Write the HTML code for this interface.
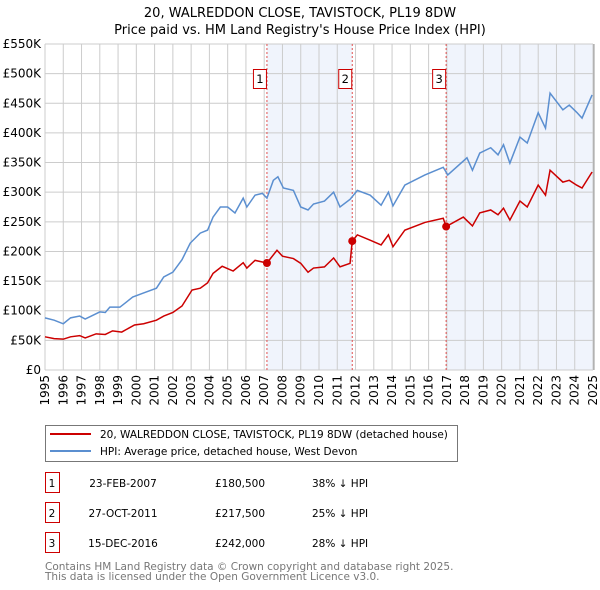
<!DOCTYPE html>
<html><head><meta charset="utf-8"><style>
body{margin:0;background:#fff;}
svg{display:block;font-family:"DejaVu Sans","Liberation Sans",sans-serif;}
</style></head><body>
<svg id="chart" width="600" height="590" viewBox="0 0 600 590">
<text x="300" y="17" text-anchor="middle" font-size="13">20, WALREDDON CLOSE, TAVISTOCK, PL19 8DW</text>
<text x="300" y="34" text-anchor="middle" font-size="13">Price paid vs. HM Land Registry's House Price Index (HPI)</text>
<g id="plot"></g>
<g>
<rect x="45.5" y="425.5" width="412" height="36" fill="#fff" stroke="#777"/>
<line x1="50" y1="434" x2="91" y2="434" stroke="#cc0000" stroke-width="2"/>
<text x="100" y="438" font-size="10.5">20, WALREDDON CLOSE, TAVISTOCK, PL19 8DW (detached house)</text>
<line x1="50" y1="451" x2="91" y2="451" stroke="#5b8fd0" stroke-width="2"/>
<text x="100" y="455" font-size="10.5">HPI: Average price, detached house, West Devon</text>
</g>
<g id="table" font-size="10.5"></g>
<text x="45" y="570" font-size="10.5" fill="#777">Contains HM Land Registry data © Crown copyright and database right 2025.</text>
<text x="45" y="580" font-size="10.5" fill="#777">This data is licensed under the Open Government Licence v3.0.</text>
</svg>
<script>
const yTicks=[0,50,100,150,200,250,300,350,400,450,500,550];
const yTickLabels=["£0","£50K","£100K","£150K","£200K","£250K","£300K","£350K","£400K","£450K","£500K","£550K"];
const xYears=[1995,1996,1997,1998,1999,2000,2001,2002,2003,2004,2005,2006,2007,2008,2009,2010,2011,2012,2013,2014,2015,2016,2017,2018,2019,2020,2021,2022,2023,2024,2025];
const hpiDates=[1995.0,1995.5,1996.0,1996.4,1996.9,1997.2,1998.0,1998.3,1998.55,1999.1,1999.8,2000.4,2001.1,2001.5,2002.0,2002.5,2002.95,2003.5,2003.9,2004.2,2004.6,2005.0,2005.4,2005.85,2006.05,2006.5,2006.9,2007.15,2007.5,2007.75,2008.05,2008.6,2009.0,2009.4,2009.7,2010.3,2010.8,2011.15,2011.7,2012.1,2012.8,2013.4,2013.8,2014.05,2014.7,2015.8,2016.8,2017.05,2018.1,2018.4,2018.8,2019.4,2019.8,2020.1,2020.45,2021.0,2021.4,2022.0,2022.4,2022.65,2023.35,2023.7,2024.1,2024.4,2024.95];
const hpiValues=[88,84,78,88,91,86,98,97,106,106,123,130,138,157,165,186,214,231,236,258,275,275,265,290,275,295,298,290,320,326,307,303,275,270,280,285,300,275,288,303,295,278,300,277,312,329,342,329,358,337,366,375,363,380,349,393,383,434,408,467,439,447,435,425,464];
const propDates=[1995.0,1995.5,1996.0,1996.4,1996.9,1997.2,1997.8,1998.3,1998.7,1999.2,1999.9,2000.4,2001.1,2001.5,2002.0,2002.5,2003.05,2003.5,2003.9,2004.2,2004.7,2005.3,2005.85,2006.05,2006.5,2007.15,2007.7,2008.0,2008.6,2009.0,2009.4,2009.7,2010.3,2010.8,2011.15,2011.7,2011.82,2012.1,2012.8,2013.4,2013.8,2014.05,2014.7,2015.8,2016.8,2016.96,2017.9,2018.4,2018.8,2019.4,2019.8,2020.1,2020.45,2021.0,2021.4,2022.0,2022.4,2022.65,2023.35,2023.7,2024.1,2024.4,2024.95];
const propValues=[56,53,52,56,58,54,61,60,66,64,76,78,84,91,97,108,135,138,147,163,175,167,181,172,185,180.5,202,192,188,180,165,172,174,189,174,180,217.5,228,219,211,228,208,236,249,256,242,258,243,265,270,262,273,253,285,275,312,295,337,317,320,312,307,334];
const saleDates=[2007.15,2011.82,2016.96];
const saleValues=[180.5,217.5,242];
const saleLabels=["1","2","3"];
const saleDateText=["23-FEB-2007","27-OCT-2011","15-DEC-2016"];
const salePriceText=["£180,500","£217,500","£242,000"];
const saleDiffText=["38% ↓ HPI","25% ↓ HPI","28% ↓ HPI"];

const X0=45,X1=593,Y0=370,Y1=44;
const xs=y=>X0+(y-1995)/30*(X1-X0);
const ys=v=>Y0-v/550*(Y0-Y1);
const NS="http://www.w3.org/2000/svg";
const plot=document.getElementById('plot');
function mk(tag,attrs,parent){const e=document.createElementNS(NS,tag);for(const k in attrs)e.setAttribute(k,attrs[k]);(parent||plot).appendChild(e);return e;}

let b=mk('rect',{x:xs(saleDates[0]),y:Y1,width:xs(saleDates[1])-xs(saleDates[0]),height:Y0-Y1,fill:'#f0f4fc'});


b=mk('rect',{x:xs(saleDates[2]),y:Y1,width:X1-xs(saleDates[2]),height:Y0-Y1,fill:'#f0f4fc'});



yTicks.forEach((v,i)=>{
  const l=mk('line',{x1:X0,x2:X1,y1:ys(v),y2:ys(v),stroke:'#cccccc'});
  
  
  const t=mk('text',{x:X0-4,y:ys(v)+4,'text-anchor':'end','font-size':'12'});
  t.textContent=yTickLabels[i];
  
  
});
xYears.forEach(yr=>{
  const l=mk('line',{x1:xs(yr),x2:xs(yr),y1:Y1,y2:Y0,stroke:'#cccccc'});
  
  
  const t=mk('text',{x:0,y:0,'text-anchor':'end','font-size':'12',transform:`translate(${xs(yr)+4},${Y0+5}) rotate(-90)`});
  t.textContent=yr;
  
  
});
let ax=mk('line',{x1:X1+1,x2:X1+1,y1:Y1,y2:Y0,stroke:'#999'});



saleDates.forEach((d,i)=>{
  const l=mk('line',{x1:xs(d),x2:xs(d),y1:Y1,y2:Y0,stroke:'#e05050','stroke-dasharray':'2,2'});
  
  
  const r=mk('rect',{x:xs(d)-13.5,y:69.5,width:13,height:19,fill:'#fff',stroke:'#cc0000'});
  
  
  const t=mk('text',{x:xs(d)-7,y:83,'text-anchor':'middle','font-size':'11.5'});
  t.textContent=saleLabels[i];
  
  
});

let p=mk('polyline',{points:hpiDates.map((d,i)=>xs(d)+','+ys(hpiValues[i])).join(' '),fill:'none',stroke:'#5b8fd0','stroke-width':'1.5'});


p=mk('polyline',{points:propDates.map((d,i)=>xs(d)+','+ys(propValues[i])).join(' '),fill:'none',stroke:'#cc0000','stroke-width':'1.5'});


saleDates.forEach((d,i)=>{
  const c=mk('circle',{cx:xs(d),cy:ys(saleValues[i]),r:4,fill:'#cc0000'});
  
  
});

const tb=document.getElementById('table');
saleDates.forEach((d,i)=>{
  const cy=483+i*30;
  const r=mk('rect',{x:45.5,y:cy-10.5,width:14,height:20,fill:'#fff',stroke:'#cc0000'},tb);
  
  
  const vals=[[52,saleLabels[i],'middle'],[123,saleDateText[i],'middle'],[240,salePriceText[i],'middle'],[312,saleDiffText[i],'start']];
  vals.forEach(v=>{
    const t=mk('text',{x:v[0],y:cy+4,'text-anchor':v[2]},tb);
    t.textContent=v[1];
    
    
  });
});
</script>
</body></html>
